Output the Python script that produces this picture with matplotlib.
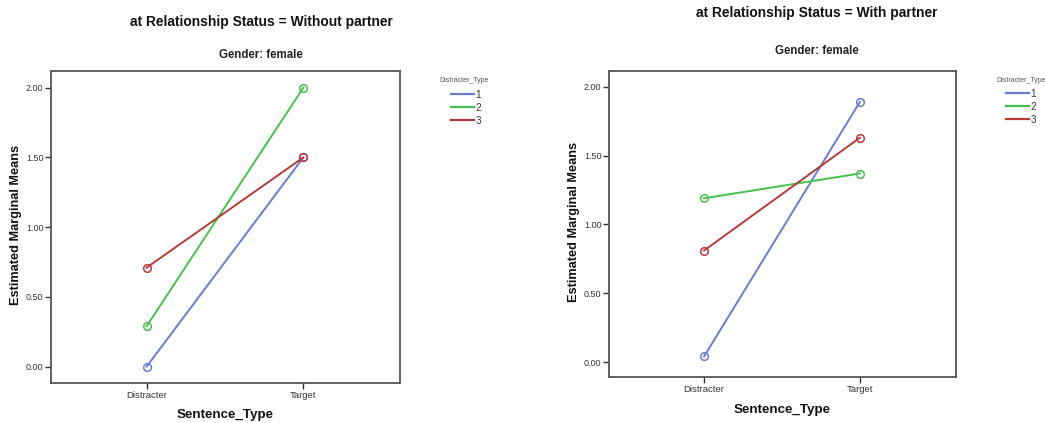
import matplotlib
matplotlib.use("Agg")
import matplotlib.pyplot as plt
from matplotlib.lines import Line2D

plt.rcParams['font.family'] = ['Liberation Sans', 'DejaVu Sans']

categories = ["Distracter", "Target"]
series_names = ["1", "2", "3"]
colors = ["#6a7bd2", "#46c24a", "#b8393c"]

without_partner = {
    "1": [0.00, 1.50],
    "2": [0.29, 2.00],
    "3": [0.71, 1.50],
}
with_partner = {
    "1": [0.04, 1.89],
    "2": [1.19, 1.37],
    "3": [0.81, 1.63],
}
yticks = [0.0, 0.5, 1.0, 1.5, 2.0]
ytick_labels = ["0.00", "0.50", "1.00", "1.50", "2.00"]

W, H = 1045, 423
fig = plt.figure(figsize=(W / 100, H / 100), dpi=100)
fig.patch.set_facecolor("white")


def px_axes(x0, y0, x1, y1):
    return fig.add_axes([x0 / W, 1 - y1 / H, (x1 - x0) / W, (y1 - y0) / H])


panels = [
    dict(data=without_partner, box=(51, 71, 400, 383), ylim=(-0.117, 2.12),
         title="at Relationship Status = Without partner", title_xy=(261, 22),
         sub_xy=(261, 55), ylab_x=16, xlab_y=415, legt_xy=(439, 81), leg_xy=(451, 90)),
    dict(data=with_partner, box=(609, 71, 956, 377), ylim=(-0.109, 2.115),
         title="at Relationship Status = With partner", title_xy=(817, 13),
         sub_xy=(817, 51), ylab_x=574, xlab_y=410, legt_xy=(996, 80), leg_xy=(1006, 89)),
]

for p in panels:
    x0, y0, x1, y1 = p["box"]
    ax = px_axes(x0, y0, x1, y1)
    xs = list(range(len(categories)))
    handles = []
    for name, c in zip(series_names, colors):
        ax.plot(xs, p["data"][name], color=c, lw=1.4, marker="o", ms=5.5,
                mfc="none", mec=c, mew=1.1, zorder=3)
        handles.append(Line2D([], [], color=c, lw=1.6))
    ax.set_xlim(-0.61, 1.617)
    ax.set_ylim(*p["ylim"])
    ax.set_xticks(xs)
    ax.set_xticklabels(categories, fontsize=6.8)
    ax.set_yticks(yticks)
    ax.set_yticklabels(ytick_labels, fontsize=6.5)
    ax.tick_params(direction="out", length=4, width=1, color="#333333",
                   labelcolor="#333333", pad=1.5)
    for s in ax.spines.values():
        s.set_color("#555555")
        s.set_linewidth(1.3)
    # titles
    fig.text(p["title_xy"][0] / W, 1 - p["title_xy"][1] / H, p["title"],
             ha="center", va="center", fontsize=9.9, fontweight="bold", color="#111111")
    fig.text(p["sub_xy"][0] / W, 1 - p["sub_xy"][1] / H, "Gender: female",
             ha="center", va="center", fontsize=8.3, fontweight="bold", color="#222222")
    fig.text(p["ylab_x"] / W, 1 - ((y0 + y1) / 2 - 2) / H, "Estimated Marginal Means",
             ha="center", va="center", rotation=90, fontsize=9.2, fontweight="bold",
             color="#111111")
    fig.text(((x0 + x1) / 2) / W, 1 - p["xlab_y"] / H, "Sentence_Type",
             ha="center", va="center", fontsize=9.6, fontweight="bold", color="#111111")
    # legend
    fig.text(p["legt_xy"][0] / W, 1 - p["legt_xy"][1] / H, "Distracter_Type",
             ha="left", va="center", fontsize=5.0, color="#555555")
    leg = fig.legend(handles, series_names,
                     loc="upper left",
                     bbox_to_anchor=(p["leg_xy"][0] / W, 1 - p["leg_xy"][1] / H),
                     frameon=False, fontsize=7.2,
                     handlelength=2.3, handletextpad=0.15, labelspacing=0.3,
                     borderpad=0, borderaxespad=0)
    for t in leg.get_texts():
        t.set_color("#333333")

fig.savefig("out.png", dpi=100, facecolor="white")
